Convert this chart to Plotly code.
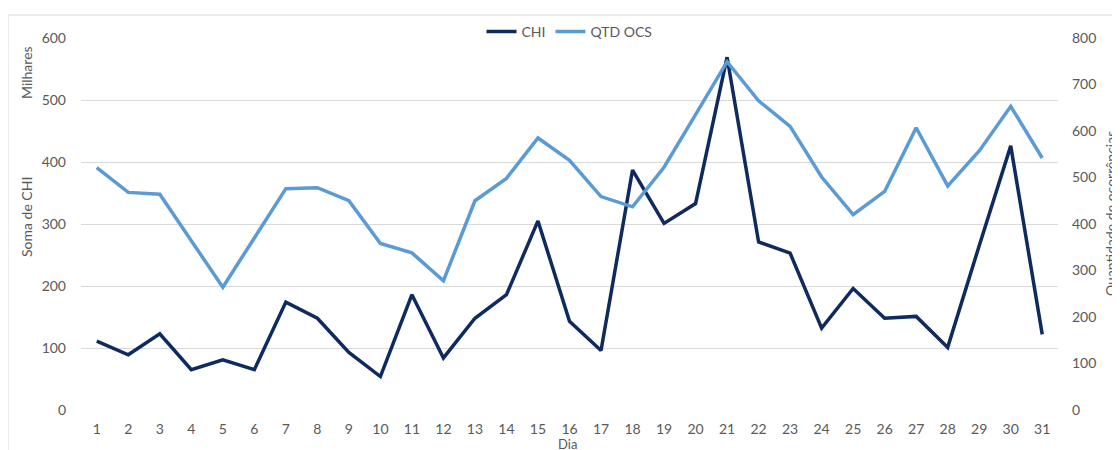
import plotly.graph_objects as go

dias = list(range(1, 32))
chi = [111, 89, 123, 65, 81, 65, 174, 148, 93, 54, 186, 84, 148, 186, 305,
       143, 96, 387, 301, 333, 569, 271, 253, 132, 196, 148, 151, 101, 265, 426, 122]
qtd_ocs = [521, 468, 464, 364, 264, 370, 476, 478, 450, 358, 338, 278, 450, 498, 585,
           537, 459, 437, 522, 635, 749, 665, 610, 501, 420, 470, 607, 482, 557, 653, 542]
left_ticks = [0, 100, 200, 300, 400, 500, 600]
right_ticks = [0, 100, 200, 300, 400, 500, 600, 700, 800]

FONT = "Lato"
GRAY = "#595959"

fig = go.Figure()
fig.add_trace(go.Scatter(x=dias, y=chi, name="CHI", mode="lines",
                         line=dict(color="#0E2A5F", width=3.5), yaxis="y"))
fig.add_trace(go.Scatter(x=dias, y=qtd_ocs, name="QTD OCS", mode="lines",
                         line=dict(color="#5B9BD5", width=3.5), yaxis="y2"))

# page body has an 8px margin: figure coordinates = screen coordinates - 8
OFF = 8
W, H = 1120, 450
PL, PR, PT, PB = 81, 1058, 38, 410  # plot area in screen pixels
L, T = PL - OFF, PT - OFF
R = W - (PR - OFF)
B = H - (PB - OFF)
pw, ph = PR - PL, PB - PT

def px(x):
    return (x - PL) / pw

def py(y):
    return (PB - y) / ph

fig.update_layout(
    width=W, height=H,
    margin=dict(l=L, r=R, t=T, b=B, autoexpand=False),
    paper_bgcolor="white", plot_bgcolor="white",
    font=dict(family=FONT, size=14, color=GRAY),
    showlegend=True,
    legend=dict(orientation="h", x=0.5, xanchor="center", y=py(32), yanchor="middle",
                font=dict(size=14, color=GRAY), bgcolor="rgba(0,0,0,0)",
                tracegroupgap=0),
    xaxis=dict(type="linear", range=[0.5, 31.5], tickmode="array", tickvals=dias,
               ticktext=[str(d) for d in dias], showgrid=False, zeroline=False,
               showline=False, ticks="", ticklabelstandoff=9,
               tickfont=dict(size=14, color=GRAY)),
    yaxis=dict(range=[0, 600], tickvals=left_ticks, showgrid=True, gridcolor="#D9D9D9",
               gridwidth=1, zeroline=False, showline=False, ticks="",
               ticklabelstandoff=14, tickfont=dict(size=14, color=GRAY)),
    yaxis2=dict(range=[0, 800], tickvals=right_ticks, overlaying="y", side="right",
                showgrid=False, zeroline=False, showline=False, ticks="",
                ticklabelstandoff=13, tickfont=dict(size=14, color=GRAY)),
    shapes=[
        dict(type="line", xref="paper", yref="paper", x0=px(8), x1=px(1135), y0=py(15), y1=py(15),
             line=dict(color="#D9D9D9", width=1)),
        dict(type="line", xref="paper", yref="paper", x0=px(8), x1=px(8), y0=py(15), y1=py(470),
             line=dict(color="#D9D9D9", width=1)),
    ],
    annotations=[
        dict(text="Soma de CHI", xref="paper", yref="paper", x=px(26), y=py(217),
             textangle=-90, showarrow=False, font=dict(size=14, color=GRAY),
             xanchor="center", yanchor="middle"),
        dict(text="Milhares", xref="paper", yref="paper", x=px(26), y=py(73),
             textangle=-90, showarrow=False, font=dict(size=14, color=GRAY),
             xanchor="center", yanchor="middle"),
        dict(text="Quantidade de ocorrências", xref="paper", yref="paper", x=px(1110), y=py(214),
             textangle=-90, showarrow=False, font=dict(size=14, color=GRAY),
             xanchor="center", yanchor="middle"),
        dict(text="Dia", xref="paper", yref="paper", x=px(567), y=py(444),
             showarrow=False, font=dict(size=13, color=GRAY),
             xanchor="center", yanchor="middle"),
    ],
)

fig.write_html("out.html")
